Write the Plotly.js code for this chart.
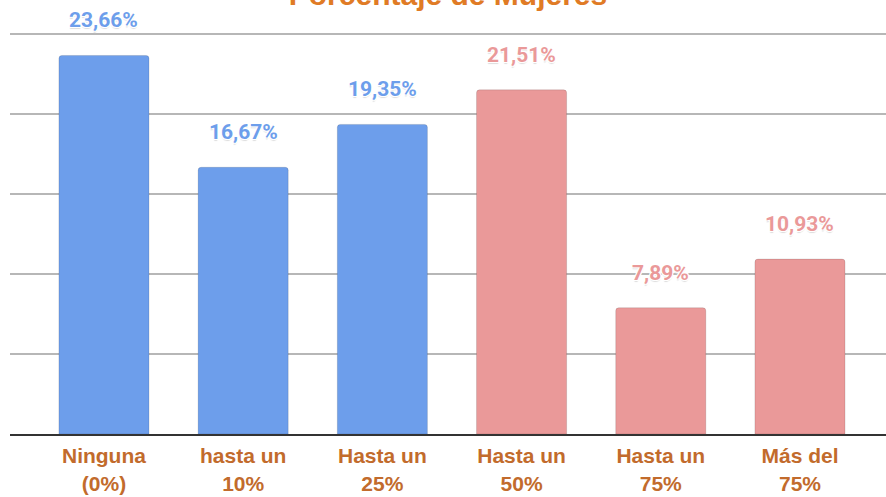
<!DOCTYPE html>
<html>
<head>
<meta charset="utf-8">
<script src="https://cdn.plot.ly/plotly-3.0.1.min.js"></script>
<style>html,body{margin:0;padding:0;background:#fff;}#chart{width:886px;height:497px;}</style>
</head>
<body>
<div id="chart"></div>
<script>
const categories = ["Ninguna<br>(0%)", "hasta un<br>10%", "Hasta un<br>25%", "Hasta un<br>50%", "Hasta un<br>75%", "Más del<br>75%"];
const values = [23.66, 16.67, 19.35, 21.51, 7.89, 10.93];
const valueLabels = ["23,66%", "16,67%", "19,35%", "21,51%", "7,89%", "10,93%"];
const barColors = ["#6d9eeb", "#6d9eeb", "#6d9eeb", "#ea9999", "#ea9999", "#ea9999"];
const chartTitle = "Porcentaje de Mujeres";

const outline = "1px 1px 0 #fff, -1px -1px 0 #fff, 1px -1px 0 #fff, -1px 1px 0 #fff, 0 2px 1px #ddd";

const trace = {
  type: "bar",
  x: categories,
  y: values,
  width: 0.647,
  marker: { color: barColors, cornerradius: 3, line: { color: "rgba(0,0,0,0.12)", width: 1 } },
  hoverinfo: "skip"
};

const annotations = categories.map((c, i) => ({
  x: c, y: values[i], xref: "x", yref: "y",
  text: valueLabels[i], showarrow: false,
  yanchor: "middle", yshift: 35,
  font: { family: "Roboto", size: 21, color: barColors[i], weight: 700, shadow: outline }
}));

const layout = {
  width: 886, height: 497,
  margin: { l: 10, r: 0, t: 26, b: 63, pad: 0 },
  paper_bgcolor: "#fff", plot_bgcolor: "#fff",
  showlegend: false,
  title: {
    text: chartTitle,
    font: { family: "Liberation Sans, Arial", size: 30, color: "#e07b25", weight: 700 },
    xref: "paper", x: 0.5, xanchor: "center",
    yref: "container", y: 0.989, yanchor: "bottom", pad: { t: 0, b: 0 }
  },
  xaxis: {
    type: "category",
    range: [-0.675, 5.618],
    showgrid: false,
    showline: true, linecolor: "#333", linewidth: 2,
    ticks: "", ticklabelstandoff: 2,
    tickfont: { family: "Liberation Sans, Arial", size: 21, color: "#c26b2c", weight: 700 },
    fixedrange: true
  },
  yaxis: {
    range: [0, 25.5],
    dtick: 5, tick0: 0,
    showgrid: true, gridcolor: "#b7b7b7", gridwidth: 1.5,
    zeroline: false,
    showticklabels: false, ticks: "",
    fixedrange: true
  },
  annotations: annotations
};

Plotly.newPlot("chart", [trace], layout, { displayModeBar: false, staticPlot: true });
</script>
</body>
</html>
